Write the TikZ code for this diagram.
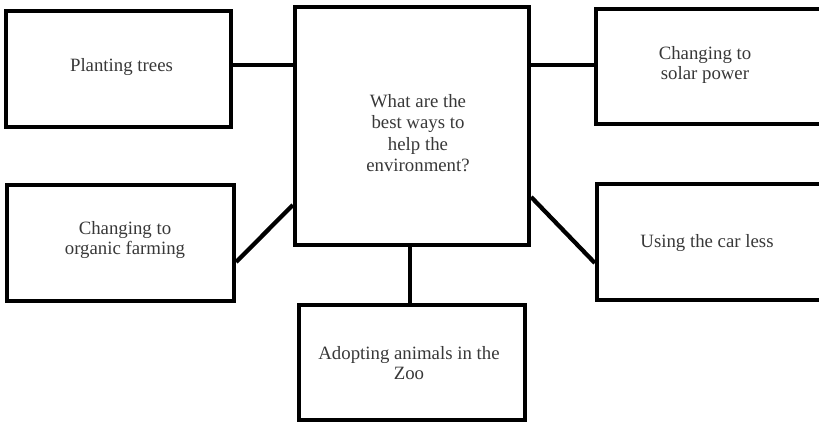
\documentclass[tikz,border=0pt]{standalone}
\usepackage{fontspec}
\setmainfont{Liberation Serif}
\usetikzlibrary{calc}
\begin{document}
\begin{tikzpicture}[x=0.75pt,y=-0.75pt,
  box/.style={draw=black,line width=3.2pt,rectangle,inner sep=0pt},
  link/.style={draw=black,line width=3.2pt},
  lbl/.style={align=center,text=black!78,inner sep=0pt,
    font=\fontsize{14.1pt}{15pt}\selectfont}]
\useasboundingbox (0,0) rectangle (819,422);
\clip (0,0) rectangle (819,422);
% boxes (sizes in px, stroke centred on the border)
\node[box,minimum width=225*0.75pt,minimum height=116*0.75pt] (trees) at (118.5,69) {};
\node[box,minimum width=234*0.75pt,minimum height=238*0.75pt] (hub) at (412,126) {};
\node[box,minimum width=239*0.75pt,minimum height=115*0.75pt] (solar) at (715.5,66.5) {};
\node[box,minimum width=227*0.75pt,minimum height=116*0.75pt] (organic) at (120.5,243) {};
\node[box,minimum width=238*0.75pt,minimum height=116*0.75pt] (car) at (716,242) {};
\node[box,minimum width=226*0.75pt,minimum height=115*0.75pt] (zoo) at (412,362.5) {};
% labels
\node[lbl] (tTrees) at (121.5,67) {Planting trees};
\node[lbl,font=\fontsize{14.1pt}{16pt}\selectfont] (tHub) at (418,133) {What are the\\best ways to\\help the\\environment?};
\node[lbl] (tSolar) at (705,65) {Changing to\\solar power};
\node[lbl] (tOrganic) at (125,240) {Changing to\\organic farming};
\node[lbl] (tCar) at (707,243) {Using the car less};
\node[lbl] (tZoo) at (409,363) {Adopting animals in the\\Zoo};
% connectors
\draw[link] (trees.east |- 0,65) -- (hub.west |- 0,65);
\draw[link] (hub.east |- 0,65) -- (solar.west |- 0,65);
\draw[link] (organic.east |- 0,262) -- (hub.west |- 0,205);
\draw[link] (hub.east |- 0,197) -- (car.west |- 0,263);
\draw[link] (hub.south -| 410,0) -- (zoo.north -| 410,0);
\end{tikzpicture}
\end{document}
